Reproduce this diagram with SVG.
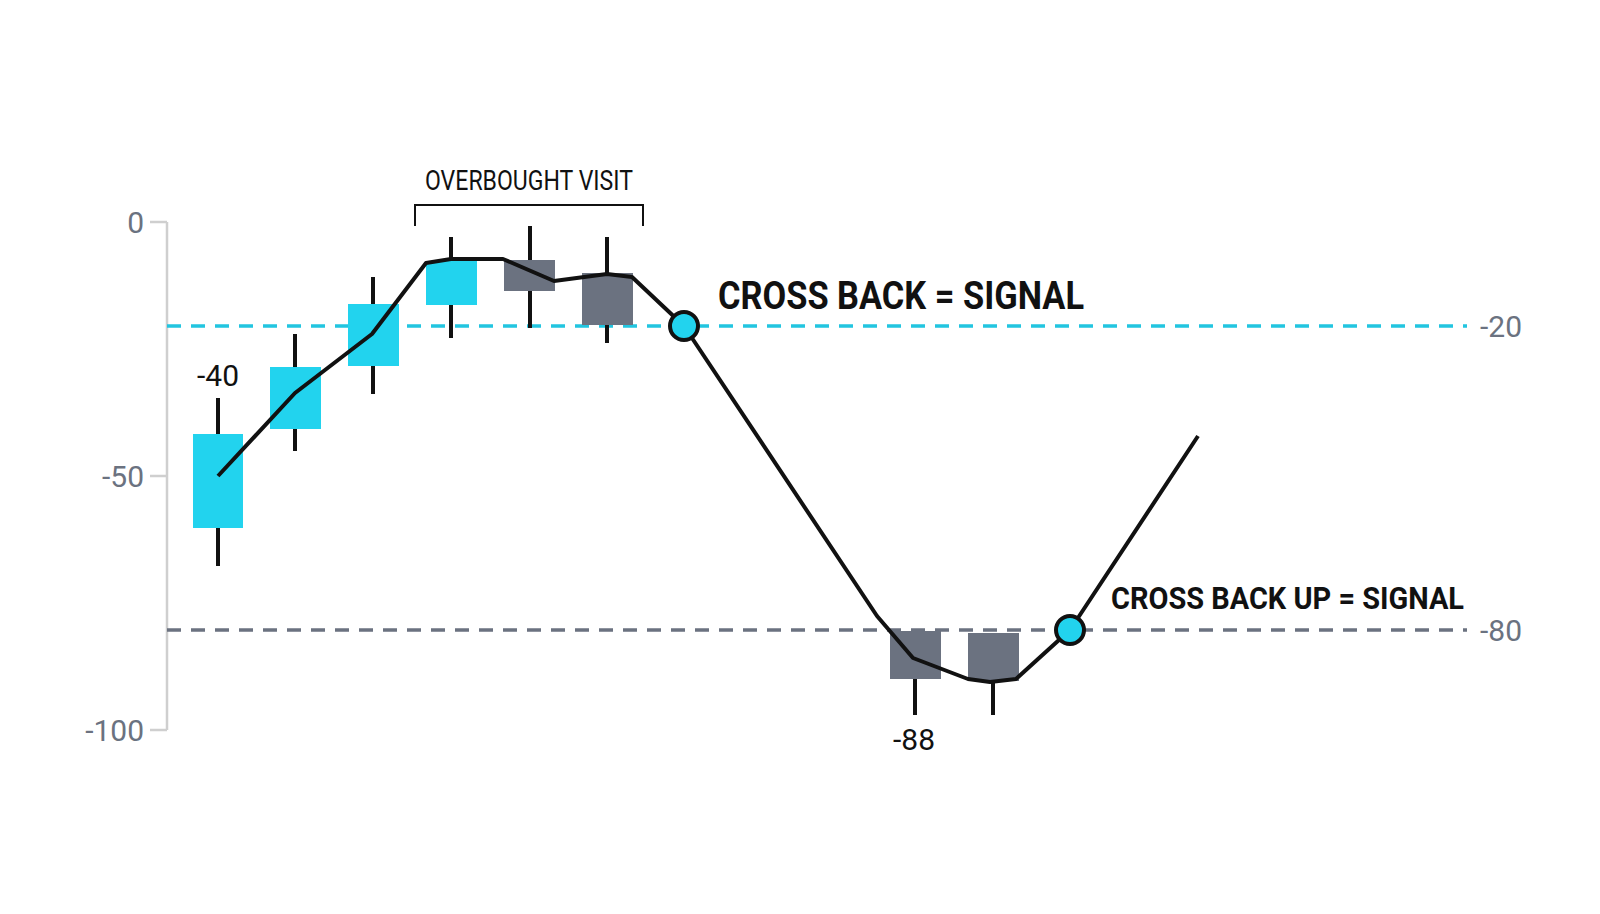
<svg xmlns="http://www.w3.org/2000/svg" width="1600" height="914" viewBox="0 0 1600 914">
<style>
.up{fill:#22d3ee}.dn{fill:#6b7280}.wk{stroke:#111;stroke-width:4}
.ax{font-family:Roboto,"Liberation Sans",sans-serif;font-size:30px;fill:#6b7280}
.lb{font-family:Roboto,"Liberation Sans",sans-serif;fill:#111}
</style>
<rect width="1600" height="914" fill="#fff"/>
<g id="axis" fill="none" stroke="#cfcfcf" stroke-width="2.5">
<path d="M167 222V730M150 222H167M150 476H167M150 730H167"/>
</g>
<g id="axis-labels" class="ax" text-anchor="end">
<text x="144" y="233">0</text><text x="144" y="487">-50</text><text x="144" y="741">-100</text>
</g>
<g id="levels">
<line x1="167" y1="326" x2="1467" y2="326" stroke="#22c5e0" stroke-width="3.5" stroke-dasharray="14 10"/>
<line x1="167" y1="630" x2="1467" y2="630" stroke="#6b7280" stroke-width="3.5" stroke-dasharray="14 10"/>
<text class="ax" x="1480" y="337">-20</text>
<text class="ax" x="1480" y="641">-80</text>
</g>
<g id="candles">
<line class="wk" x1="218" y1="398" x2="218" y2="566"/><rect class="up" x="193" y="434" width="50" height="94"/>
<line class="wk" x1="295" y1="334" x2="295" y2="451"/><rect class="up" x="270" y="367" width="51" height="62"/>
<line class="wk" x1="373" y1="277" x2="373" y2="394"/><rect class="up" x="348" y="304" width="51" height="62"/>
<line class="wk" x1="451" y1="237" x2="451" y2="338"/><rect class="up" x="426" y="261" width="51" height="44"/>
<line class="wk" x1="530" y1="226" x2="530" y2="328"/><rect class="dn" x="504" y="260" width="51" height="31"/>
<line class="wk" x1="607" y1="237" x2="607" y2="343"/><rect class="dn" x="582" y="273" width="51" height="52"/>
<line class="wk" x1="915" y1="660" x2="915" y2="715"/><rect class="dn" x="890" y="631" width="51" height="48"/>
<line class="wk" x1="993" y1="660" x2="993" y2="715"/><rect class="dn" x="968" y="633" width="51" height="48"/>
</g>
<g id="connectors">
<polyline fill="none" stroke="#111" stroke-width="4" stroke-linejoin="round" points="218,476 295,393 372,334 426,263 451,259 503,259 554,281 607,274 632,277 684,326 877,616 913,658 968,679 990,682 1016,679 1070,630 1198,436"/>
<path d="M415 226V205H643V226" fill="none" stroke="#111" stroke-width="2"/>
</g>
<g id="signal-1"><circle cx="684" cy="326" r="14" fill="#22d3ee" stroke="#111" stroke-width="4"/></g>
<g id="signal-2"><circle cx="1070" cy="630" r="14" fill="#22d3ee" stroke="#111" stroke-width="4"/></g>
<g id="labels" class="lb">
<text x="529" y="190" font-size="27" text-anchor="middle" textLength="208" lengthAdjust="spacingAndGlyphs">OVERBOUGHT VISIT</text>
<text x="718" y="309" font-size="38" font-weight="bold" textLength="366" lengthAdjust="spacingAndGlyphs">CROSS BACK = SIGNAL</text>
<text x="1111" y="609" font-size="32" font-weight="bold" textLength="353" lengthAdjust="spacingAndGlyphs">CROSS BACK UP = SIGNAL</text>
<text x="218" y="386" font-size="29" text-anchor="middle" textLength="42" lengthAdjust="spacingAndGlyphs">-40</text>
<text x="914" y="750" font-size="29" text-anchor="middle" textLength="42" lengthAdjust="spacingAndGlyphs">-88</text>
</g>
</svg>
